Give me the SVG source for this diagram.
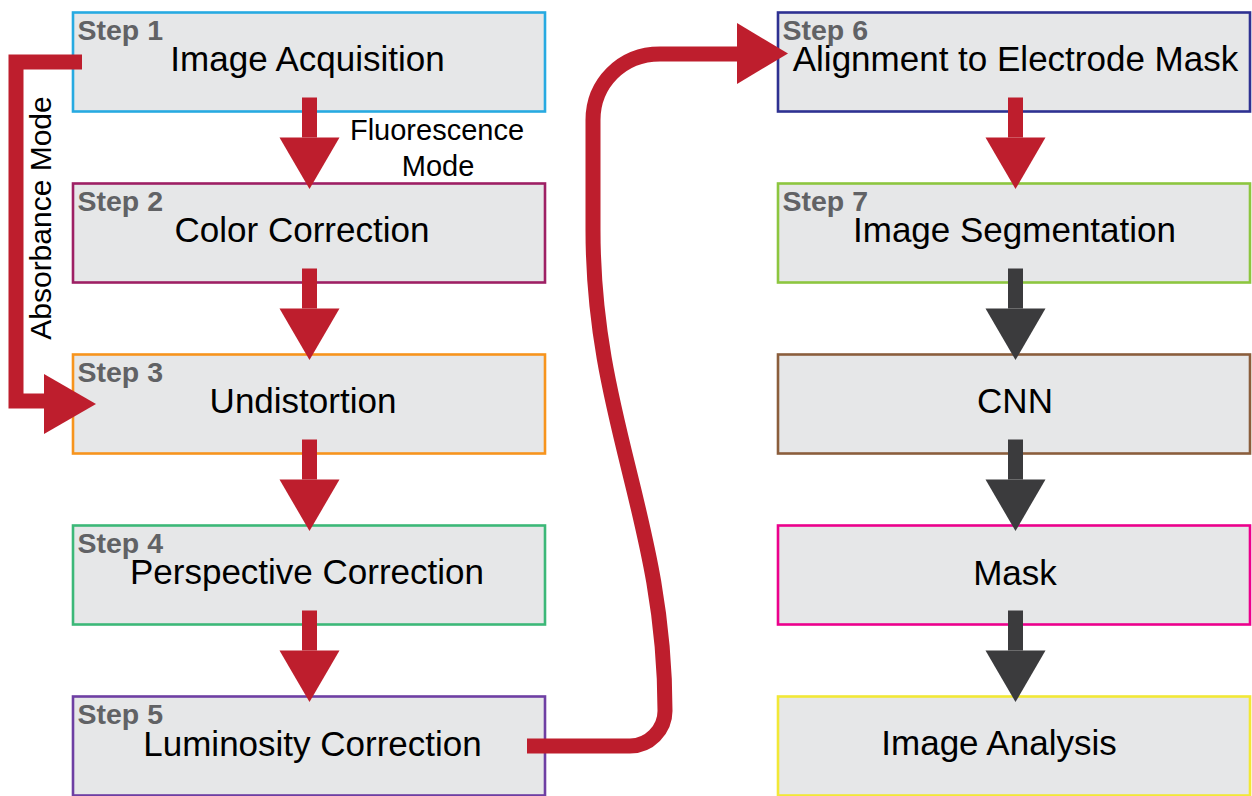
<svg xmlns="http://www.w3.org/2000/svg" width="1252" height="796" viewBox="0 0 1252 796">
<style>
.box{fill:#E6E7E8;stroke-width:2.6}
.step{font-family:"Liberation Sans",Arial,sans-serif;font-weight:bold;font-size:28.5px;fill:#616265}
.lbl{font-family:"Liberation Sans",Arial,sans-serif;font-size:35px;fill:#000;text-anchor:middle}
.note{font-family:"Liberation Sans",Arial,sans-serif;font-size:29px;fill:#000;text-anchor:middle}
.red{fill:#BE1E2D}
.dark{fill:#3B3B3D}
.redline{fill:none;stroke:#BE1E2D;stroke-width:15;stroke-linejoin:miter}
</style>
<rect width="1252" height="796" fill="#fff"/>
<g id="step1"><rect class="box" x="73" y="12.5" width="472" height="99" stroke="#27AAE1"/><text class="step" x="77.5" y="39.5">Step 1</text><text class="lbl" x="307.5" y="71">Image Acquisition</text></g>
<g id="step2"><rect class="box" x="73" y="183.5" width="472" height="99" stroke="#9E2064"/><text class="step" x="77.5" y="210.5">Step 2</text><text class="lbl" x="302" y="242">Color Correction</text></g>
<g id="step3"><rect class="box" x="73" y="354.5" width="472" height="99" stroke="#F7941D"/><text class="step" x="77.5" y="381.5">Step 3</text><text class="lbl" x="303" y="413">Undistortion</text></g>
<g id="step4"><rect class="box" x="73" y="525.5" width="472" height="99" stroke="#3CB878"/><text class="step" x="77.5" y="552.5">Step 4</text><text class="lbl" x="307" y="584">Perspective Correction</text></g>
<g id="step5"><rect class="box" x="73" y="696.5" width="472" height="99" stroke="#6E3FA3"/><text class="step" x="77.5" y="723.5">Step 5</text><text class="lbl" x="312.5" y="756">Luminosity Correction</text></g>
<g id="step6"><rect class="box" x="778" y="12.5" width="472" height="99" stroke="#2E3192"/><text class="step" x="782.5" y="39.5">Step 6</text><text class="lbl" x="1015.5" y="71">Alignment to Electrode Mask</text></g>
<g id="step7"><rect class="box" x="778" y="183.5" width="472" height="99" stroke="#8DC63F"/><text class="step" x="782.5" y="210.5">Step 7</text><text class="lbl" x="1014.5" y="242">Image Segmentation</text></g>
<g id="cnn"><rect class="box" x="778" y="354.5" width="472" height="99" stroke="#8B5E3C"/><text class="lbl" x="1015" y="413">CNN</text></g>
<g id="mask"><rect class="box" x="778" y="525.5" width="472" height="99" stroke="#EC008C"/><text class="lbl" x="1015" y="585">Mask</text></g>
<g id="analysis"><rect class="box" x="778" y="696.5" width="472" height="99" stroke="#F2E836"/><text class="lbl" x="999" y="755">Image Analysis</text></g>
<g id="connectors">
<g id="left-arrows" class="red">
<rect x="302" y="97.5" width="15" height="40"/><polygon points="279.5,137.5 339.5,137.5 309.5,189"/>
<rect x="302" y="268.5" width="15" height="40"/><polygon points="279.5,308.5 339.5,308.5 309.5,360"/>
<rect x="302" y="439.5" width="15" height="40"/><polygon points="279.5,479.5 339.5,479.5 309.5,531"/>
<rect x="302" y="610.5" width="15" height="40"/><polygon points="279.5,650.5 339.5,650.5 309.5,702"/>
</g>
<g id="right-red-arrow" class="red">
<rect x="1008" y="97.5" width="15" height="40"/><polygon points="985.5,137.5 1045.5,137.5 1015.5,189"/>
</g>
<g id="right-dark-arrows" class="dark">
<rect x="1008" y="268.5" width="15" height="40"/><polygon points="985.5,308.5 1045.5,308.5 1015.5,360"/>
<rect x="1008" y="439.5" width="15" height="40"/><polygon points="985.5,479.5 1045.5,479.5 1015.5,531"/>
<rect x="1008" y="610.5" width="15" height="40"/><polygon points="985.5,650.5 1045.5,650.5 1015.5,702"/>
</g>
<g id="absorbance">
<path class="redline" d="M82 62 L16 62 L16 401 L46 401"/>
<polygon class="red" points="44,374 44,434 96,404"/>
</g>
<g id="s-curve">
<path class="redline" d="M527 746 L630 746 C649 746 665 730 665 711 C665 520 593 420 593 230 L593 120 C593 84 621 54 660 54 L739 54"/>
<polygon class="red" points="737,23 737,84 788,53.5"/>
</g>
<text class="note" x="437" y="140">Fluorescence</text>
<text class="note" x="438" y="176">Mode</text>
<text class="note" style="font-size:30px" transform="translate(51 218) rotate(-90)">Absorbance Mode</text>
</g>
</svg>
